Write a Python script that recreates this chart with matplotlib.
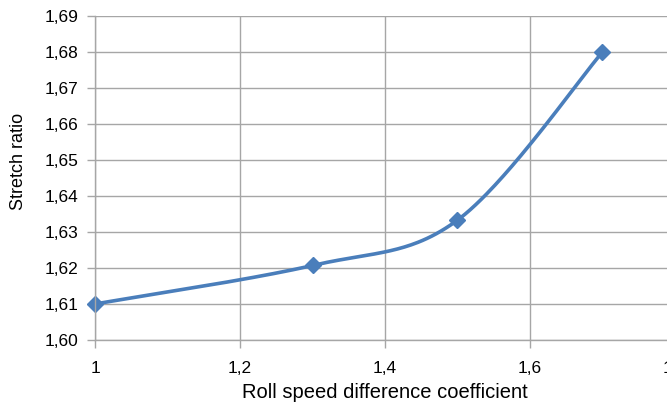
import numpy as np
import matplotlib
matplotlib.use("Agg")
import matplotlib.pyplot as plt

x_vals = [1.0, 1.3, 1.5, 1.7]
y_vals = [1.610, 1.6207, 1.6333, 1.680]
x_ticks = [1.0, 1.2, 1.4, 1.6, 1.8]
y_ticks = [1.60, 1.61, 1.62, 1.63, 1.64, 1.65, 1.66, 1.67, 1.68, 1.69]
x_label = "Roll speed difference coefficient"
y_label = "Stretch ratio"

def smooth(xs, ys, n=60):
    pts = np.column_stack([xs, ys]).astype(float)
    out = []
    m = len(pts)
    for i in range(m - 1):
        p0 = pts[i - 1] if i > 0 else pts[i]
        p1 = pts[i]
        p2 = pts[i + 1]
        p3 = pts[i + 2] if i + 2 < m else pts[i + 1]
        c1 = p1 + (p2 - p0) / 6.0
        c2 = p2 - (p3 - p1) / 6.0
        t = np.linspace(0, 1, n)[:, None]
        seg = ((1 - t) ** 3) * p1 + 3 * ((1 - t) ** 2) * t * c1 + 3 * (1 - t) * t ** 2 * c2 + t ** 3 * p2
        out.append(seg if i == 0 else seg[1:])
    arr = np.vstack(out)
    return arr[:, 0], arr[:, 1]

plt.rcParams['font.family'] = ['Liberation Sans', 'DejaVu Sans']

fig = plt.figure(figsize=(6.67, 4.07), dpi=100)
ax = fig.add_axes([95 / 667, 1 - 340 / 407, (675 - 95) / 667, (340 - 16) / 407])

grid_c = '#a6a6a6'
ax.set_xlim(x_ticks[0], x_ticks[-1])
ax.set_ylim(y_ticks[0], y_ticks[-1])
ax.set_xticks(x_ticks)
ax.set_yticks(y_ticks)
ax.set_xticklabels([f"{v:g}".replace('.', ',') for v in x_ticks])
ax.set_yticklabels([f"{v:.2f}".replace('.', ',') for v in y_ticks])
ax.grid(True, color=grid_c, linewidth=1.0)
ax.set_axisbelow(True)
for s in ['top', 'right']:
    ax.spines[s].set_visible(False)
for s in ['left', 'bottom']:
    ax.spines[s].set_color(grid_c)
    ax.spines[s].set_linewidth(1.0)
ax.tick_params(axis='both', colors=grid_c, labelcolor='black', labelsize=12.5,
               length=6, width=1.0, direction='out')
ax.tick_params(axis='x', pad=9)
ax.tick_params(axis='y', pad=6)

sx, sy = smooth(x_vals, y_vals)
color = '#4a7ebb'
ax.plot(sx, sy, color=color, linewidth=2.6, solid_capstyle='round', clip_on=False)
ax.plot(x_vals, y_vals, linestyle='none', marker='D', markersize=8.5, color=color, clip_on=False)

ax.set_xlabel(x_label, fontsize=14.5, labelpad=5)
ax.set_ylabel(y_label, fontsize=13)
ax.yaxis.set_label_coords((27 - 95) / 580, (340 - 161.5) / 324)

fig.savefig("out.png", dpi=100)
